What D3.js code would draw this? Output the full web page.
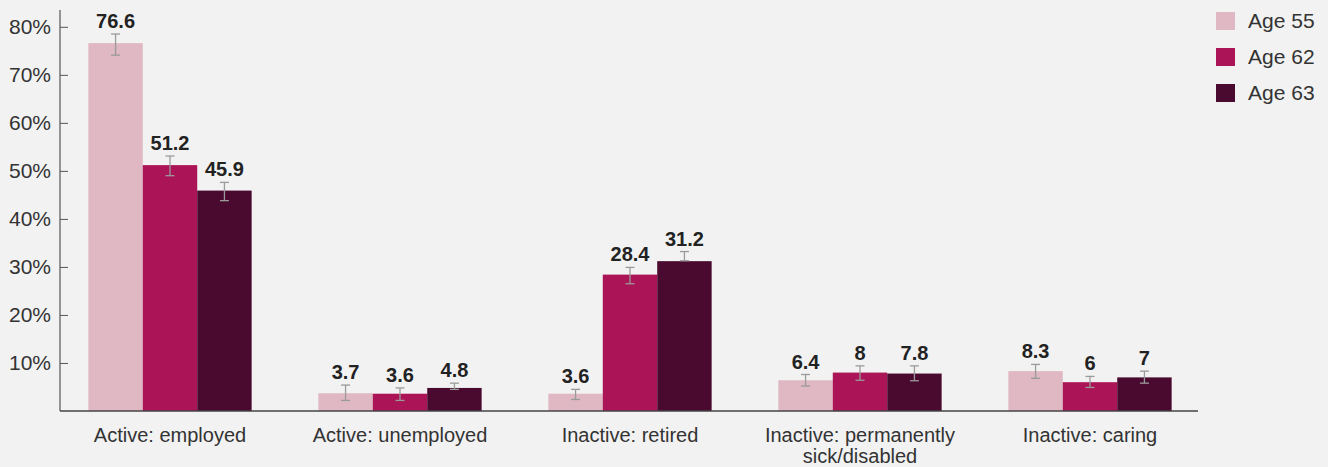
<!DOCTYPE html>
<html>
<head>
<meta charset="utf-8">
<script src="https://cdn.jsdelivr.net/npm/d3@7"></script>
<style>
  html, body { margin: 0; padding: 0; background: #f2f2f2; }
  svg { display: block; font-family: "Liberation Sans", Arial, sans-serif; }
</style>
</head>
<body>
<div id="chart"></div>
<script>
const categories = ["Active: employed", "Active: unemployed", "Inactive: retired", "Inactive: permanently sick/disabled", "Inactive: caring"];
const seriesNames = ["Age 55", "Age 62", "Age 63"];
const seriesColors = ["#dfb8c3", "#ab1456", "#4a0a30"];

const age55 = [76.6, 3.7, 3.6, 6.4, 8.3];
const age62 = [51.2, 3.6, 28.4, 8, 6];
const age63 = [45.9, 4.8, 31.2, 7.8, 7];

// confidence interval bounds
const age55Low = [74.1, 2.2, 2.4, 5.2, 6.8];
const age55High = [78.5, 5.4, 4.5, 7.6, 9.7];
const age62Low = [49.0, 2.2, 26.5, 6.4, 4.9];
const age62High = [53.1, 4.8, 29.9, 9.4, 7.2];
const age63Low = [43.8, 4.5, 31.3, 6.3, 5.8];
const age63High = [47.6, 5.8, 33.2, 9.4, 8.3];

const yTicks = [10, 20, 30, 40, 50, 60, 70, 80];

const series = [
  { name: seriesNames[0], color: seriesColors[0], values: age55, low: age55Low, high: age55High },
  { name: seriesNames[1], color: seriesColors[1], values: age62, low: age62Low, high: age62High },
  { name: seriesNames[2], color: seriesColors[2], values: age63, low: age63Low, high: age63High }
];

const width = 1328;
const height = 467;

const svg = d3.select("#chart")
  .append("svg")
  .attr("width", width)
  .attr("height", height);

const x0 = d3.scaleBand()
  .domain(categories)
  .range([55, 1205])
  .paddingInner(0.29)
  .paddingOuter(0.145);

const x1 = d3.scaleBand()
  .domain(seriesNames)
  .range([0, x0.bandwidth()]);

const y = d3.scaleLinear()
  .domain([0, 83.5])
  .range([411, 10]);

// y axis
const yAxis = svg.append("g")
  .attr("transform", "translate(60,0)")
  .call(d3.axisRight(y).tickValues(yTicks).tickSize(8).tickFormat(d => d + "%"));
yAxis.select(".domain").remove();
yAxis.selectAll(".tick line").attr("stroke", "#555");
yAxis.selectAll(".tick text")
  .attr("x", -9)
  .attr("text-anchor", "end")
  .attr("fill", "#333")
  .style("font-size", "21px");

svg.append("line")
  .attr("x1", 60).attr("x2", 60)
  .attr("y1", 10).attr("y2", 411)
  .attr("stroke", "#555").attr("stroke-width", 1.2);

// bars
const groups = svg.append("g")
  .selectAll("g")
  .data(categories)
  .join("g")
  .attr("transform", d => `translate(${x0(d)},0)`);

series.forEach(s => {
  groups.append("rect")
    .attr("x", x1(s.name))
    .attr("width", x1.bandwidth())
    .attr("y", (d, i) => y(s.values[i]))
    .attr("height", (d, i) => y(0) - y(s.values[i]))
    .attr("fill", s.color);
});

// error bars
series.forEach(s => {
  const cx = x1(s.name) + x1.bandwidth() / 2;
  const eb = groups.append("g").attr("stroke", "#9a9a9a").attr("stroke-width", 1.3);
  eb.append("line")
    .attr("x1", cx).attr("x2", cx)
    .attr("y1", (d, i) => y(s.low[i]))
    .attr("y2", (d, i) => y(s.high[i]));
  eb.append("line")
    .attr("x1", cx - 4.5).attr("x2", cx + 4.5)
    .attr("y1", (d, i) => y(s.low[i]))
    .attr("y2", (d, i) => y(s.low[i]));
  eb.append("line")
    .attr("x1", cx - 4.5).attr("x2", cx + 4.5)
    .attr("y1", (d, i) => y(s.high[i]))
    .attr("y2", (d, i) => y(s.high[i]));
});

// value labels
series.forEach(s => {
  const cx = x1(s.name) + x1.bandwidth() / 2;
  groups.append("text")
    .attr("x", cx)
    .attr("y", (d, i) => y(s.high[i]) - 6)
    .attr("text-anchor", "middle")
    .attr("fill", "#222")
    .style("font-size", "20px")
    .style("font-weight", "bold")
    .text((d, i) => s.values[i]);
});

// x axis baseline
svg.append("line")
  .attr("x1", 60).attr("x2", 1198)
  .attr("y1", 411).attr("y2", 411)
  .attr("stroke", "#444").attr("stroke-width", 1.5);

// category labels
const catLabels = svg.append("g")
  .selectAll("text")
  .data(categories)
  .join("text")
  .attr("x", d => x0(d) + x0.bandwidth() / 2)
  .attr("y", 442)
  .attr("text-anchor", "middle")
  .attr("fill", "#333")
  .style("font-size", "20px");

catLabels.each(function(d) {
  const t = d3.select(this);
  const lines = d === "Inactive: permanently sick/disabled"
    ? ["Inactive: permanently", "sick/disabled"]
    : [d];
  lines.forEach((ln, k) => {
    t.append("tspan")
      .attr("x", x0(d) + x0.bandwidth() / 2)
      .attr("dy", k === 0 ? 0 : 21)
      .text(ln);
  });
});

// legend
const legend = svg.append("g")
  .attr("transform", "translate(1216,12)");

series.forEach((s, i) => {
  const row = legend.append("g").attr("transform", `translate(0,${i * 36})`);
  row.append("rect")
    .attr("width", 19)
    .attr("height", 18)
    .attr("fill", s.color);
  row.append("text")
    .attr("x", 32)
    .attr("y", 16)
    .attr("fill", "#333")
    .style("font-size", "21px")
    .text(s.name);
});
</script>
</body>
</html>
